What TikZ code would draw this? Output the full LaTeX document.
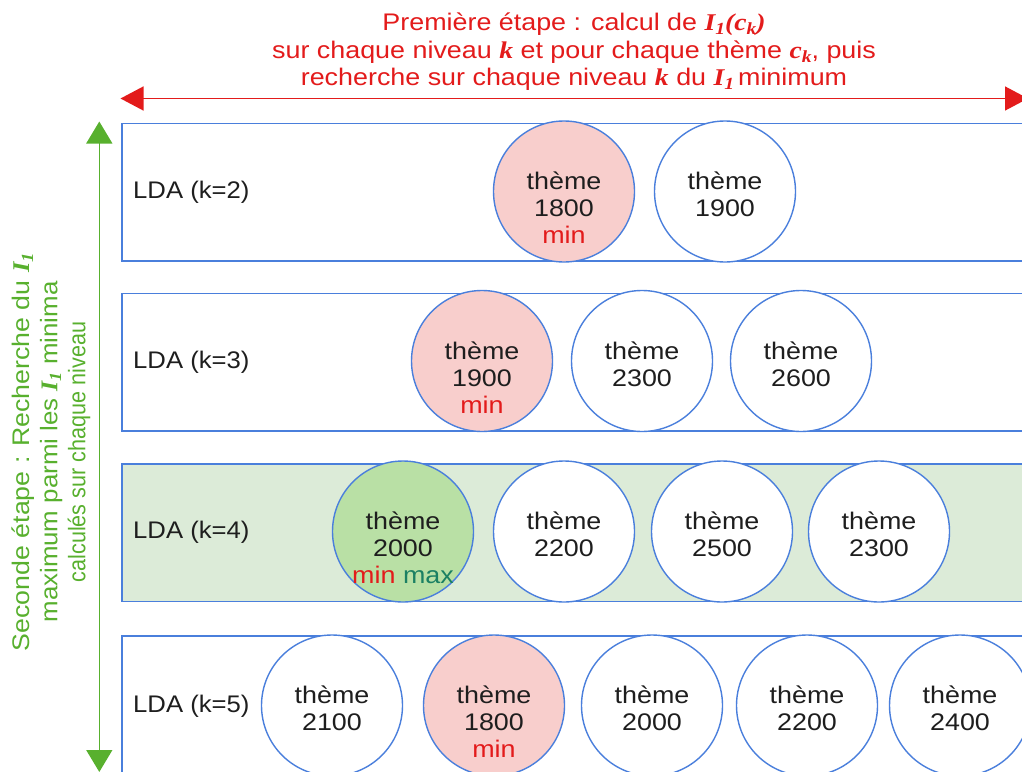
\documentclass[tikz,border=0pt]{standalone}
\usepackage{fontspec}
\setmainfont{Liberation Sans}[FakeStretch=1.12]
\newfontfamily\vertfont{Liberation Sans}
\newfontfamily\ldafont{Liberation Sans}[FakeStretch=1.07]
\newfontfamily\serbi{Liberation Serif}[FakeStretch=1.15]
\newfontfamily\serbiv{Liberation Serif}
\usetikzlibrary{arrows.meta,calc}
\definecolor{bluestroke}{HTML}{4A7FDC}
\definecolor{redfill}{HTML}{F8CECC}
\definecolor{greenfill}{HTML}{B9E0A5}
\definecolor{rowgreen}{HTML}{DCEBD8}
\definecolor{redtxt}{HTML}{E31B1B}
\definecolor{maxtxt}{HTML}{1B8063}
\definecolor{greenarr}{HTML}{58B02E}
\definecolor{darktxt}{HTML}{1E1E1E}
\newcommand\bi[1]{{\serbi\bfseries\itshape #1}}
\newcommand\biv[1]{{\serbiv\bfseries\itshape #1}}
\newcommand\sbs[1]{\raisebox{-0.35ex}{\fontsize{17}{17}\selectfont #1}}
\newcommand\T{\rule{0pt}{24pt}}
\tikzset{
  rowbox/.style={draw=bluestroke, line width=1.6pt, fill=white, minimum width=940pt, minimum height=137.5pt, anchor=north west, inner sep=0pt},
  circ/.style={circle, draw=bluestroke, line width=1.4pt, fill=white, minimum size=141pt, inner sep=0pt, align=center, text=darktxt, font=\fontsize{24}{27}\selectfont},
  redcirc/.style={circ, fill=redfill},
  greencirc/.style={circ, fill=greenfill},
  ldalabel/.style={anchor=west, text=darktxt, font=\ldafont\fontsize{24}{27}\selectfont, inner sep=0pt},
  minlabel/.style={anchor=base, text=redtxt, font=\fontsize{24}{27}\selectfont, inner sep=0pt},
  redarrow/.style={draw=redtxt, line width=1.4pt, {Triangle[length=23pt,width=24pt]}-{Triangle[length=23pt,width=24pt]}},
  greenarrow/.style={draw=greenarr, line width=1.4pt, {Triangle[length=22pt,width=26pt]}-{Triangle[length=22pt,width=26pt]}}
}
\begin{document}
\begin{tikzpicture}[x=1pt,y=-1pt]
\useasboundingbox (0,0) rectangle (1022,771);
\clip (0,0) rectangle (1022,771);
% title
\node[align=center, text=redtxt, font=\fontsize{24}{27.5}\selectfont, inner sep=0pt] (title) at (574,52)
 {Première étape : calcul de \bi{I\sbs{1}(c\sbs{k})}\\
  sur chaque niveau \bi{k} et pour chaque thème \bi{c\sbs{k}}, puis\\
  recherche sur chaque niveau \bi{k} du \bi{I\sbs{1}}\,minimum};
\coordinate (ta) at (120.5,98.5);
\coordinate (tb) at (1028,98.5);
\draw[redarrow] (ta) -- (tb);
% left
\coordinate (la) at (99.3,121.5);
\coordinate (lb) at (99.3,772);
\draw[greenarrow] (la) -- (lb);
\node[rotate=90, align=center, text=greenarr, font=\vertfont\fontsize{24}{28}\selectfont, inner sep=0pt] (side) at (51,452)
 {\scalebox{1.113}[1]{Seconde étape : Recherche du \biv{I\sbs{1}}}\\
  \scalebox{1.077}[1]{maximum parmi les \biv{I\sbs{1}} minima}\\
  \scalebox{0.90}[1]{calculés sur chaque niveau}};
% rows
\node[rowbox] (row2) at (121,122.5) {};
\node[rowbox] (row3) at (121,292.7) {};
\node[rowbox, fill=rowgreen] (row4) at (121,463) {};
\node[rowbox] (row5) at (121,635.3) {};
\node[ldalabel] (l2) at (133,192) {LDA (k=2)};
\node[ldalabel] (l3) at (133,362) {LDA (k=3)};
\node[ldalabel] (l4) at (133,532) {LDA (k=4)};
\node[ldalabel] (l5) at (133,706) {LDA (k=5)};
% row k=2
\node[redcirc] (c21) at (564,191.5) {\T thème\\1800};
\node[minlabel] (c21m) at ($(c21.center)+(0,52)$) {min};
\node[circ] (c22) at (725,191.5) {\T thème\\1900};
% row k=3
\node[redcirc] (c31) at (482,361) {\T thème\\1900};
\node[minlabel] (c31m) at ($(c31.center)+(0,52)$) {min};
\node[circ] (c32) at (642,361) {\T thème\\2300};
\node[circ] (c33) at (801,361) {\T thème\\2600};
% row k=4
\node[greencirc] (c41) at (403,531.5) {\T thème\\2000};
\node[minlabel] (c41m) at ($(c41.center)+(0,52)$) {min \textcolor{maxtxt}{max}};
\node[circ] (c42) at (564,531.5) {\T thème\\2200};
\node[circ] (c43) at (722,531.5) {\T thème\\2500};
\node[circ] (c44) at (879,531.5) {\T thème\\2300};
% row k=5
\node[circ] (c51) at (332,705.5) {\T thème\\2100};
\node[redcirc] (c52) at (494,705.5) {\T thème\\1800};
\node[minlabel] (c52m) at ($(c52.center)+(0,52)$) {min};
\node[circ] (c53) at (652,705.5) {\T thème\\2000};
\node[circ] (c54) at (807,705.5) {\T thème\\2200};
\node[circ] (c55) at (960,705.5) {\T thème\\2400};
\end{tikzpicture}
\end{document}
